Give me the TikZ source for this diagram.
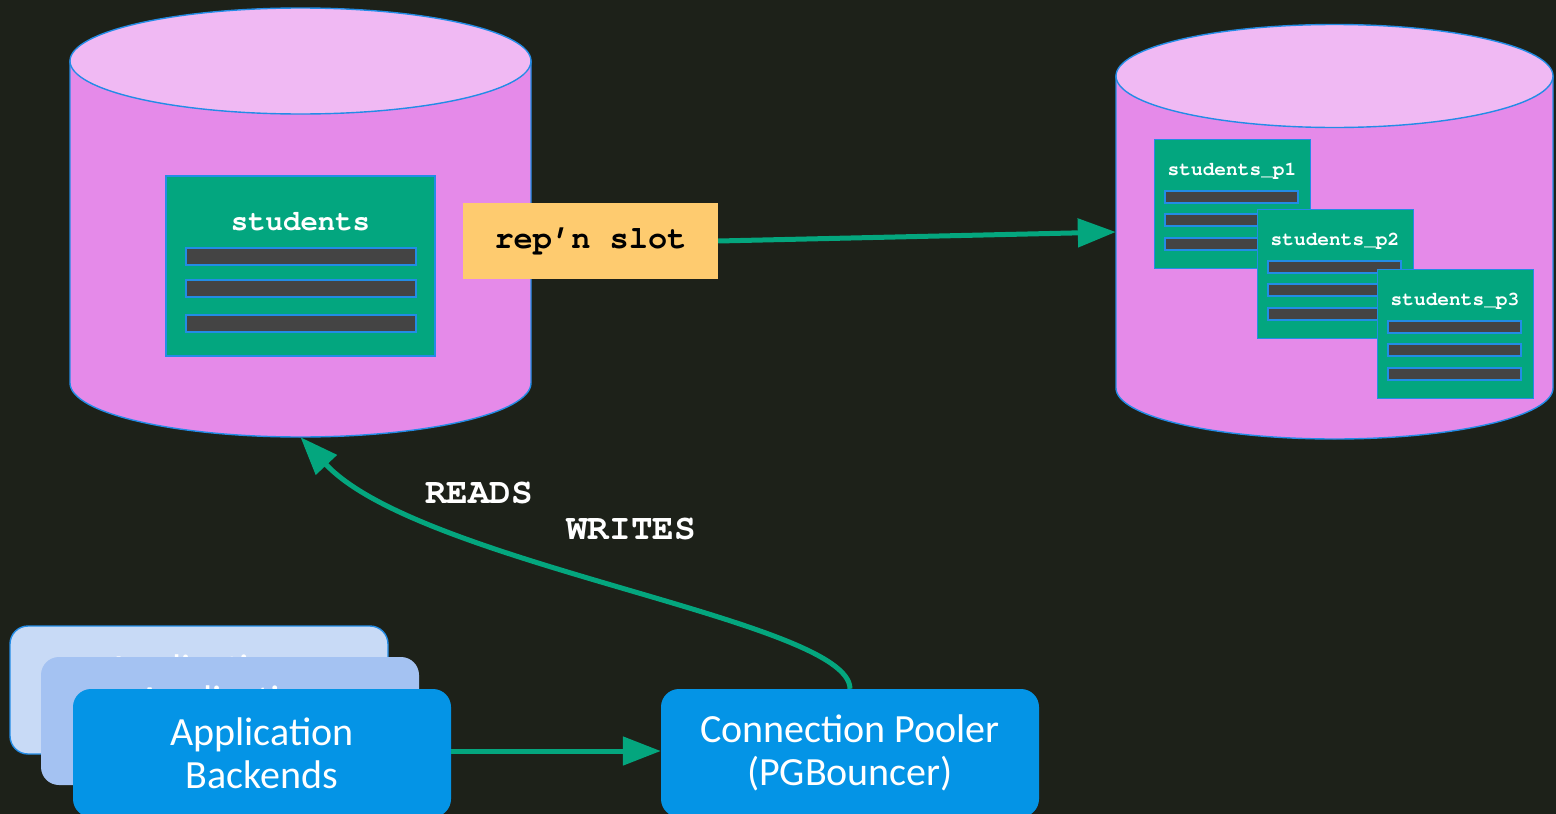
\documentclass[tikz,border=0pt]{standalone}
\usepackage{fontspec}
\setmainfont{Carlito}
\newfontfamily\codefont{TeX Gyre Cursor}
\usetikzlibrary{arrows.meta}

\definecolor{bg}{HTML}{1D2119}
\definecolor{dbbody}{HTML}{E58AE9}
\definecolor{dbtop}{HTML}{F0B9F3}
\definecolor{edgeblue}{HTML}{238CE6}
\definecolor{tblgreen}{HTML}{03A67F}
\definecolor{rowgrey}{HTML}{444444}
\definecolor{slotfill}{HTML}{FECB6F}
\definecolor{flow}{HTML}{04A67E}
\definecolor{appback}{HTML}{C8DAF6}
\definecolor{appmid}{HTML}{A4C2F2}
\definecolor{appfront}{HTML}{0494E6}

\tikzset{
  dbshape/.style={draw=edgeblue, line width=1.4pt},
  tbl/.style={draw=edgeblue, line width=1.4pt, fill=tblgreen, inner sep=0pt},
  rowbar/.style={draw=edgeblue, line width=1.2pt, fill=rowgrey, inner sep=0pt},
  tbltitle/.style={text=white, inner sep=0pt},
  appbox/.style={rounded corners=18pt, minimum width=378pt, minimum height=128pt,
    inner sep=0pt, align=center, text=white,
    font=\fontsize{40}{43}\selectfont},
  flowline/.style={draw=flow, line width=5pt, -{Triangle[length=38pt,width=28pt]}},
  codelabel/.style={text=white, inner sep=0pt, font=\codefont\bfseries\fontsize{36}{40}\selectfont},
  ptable/.pic={
    \node[tbl, minimum width=156pt, minimum height=129pt, anchor=north west] (-box) at (0,0) {};
    \node[tbltitle, font=\codefont\bfseries\fontsize{19.5}{21}\selectfont] (-title) at (78,32) {#1};
    \node[rowbar, minimum width=133pt, minimum height=12pt] (-r1) at (77.5,58) {};
    \node[rowbar, minimum width=133pt, minimum height=12pt] (-r2) at (77.5,81) {};
    \node[rowbar, minimum width=133pt, minimum height=12pt] (-r3) at (77.5,105) {};
  }
}

\begin{document}
\begin{tikzpicture}[x=1pt,y=-1pt]
\useasboundingbox (0,0) rectangle (1556,814);
\fill[bg] (0,0) rectangle (1556,814);

% source database cylinder
\node[inner sep=0pt, minimum width=461pt, minimum height=429pt] (src) at (300.5,222.5) {};
\draw[dbshape, fill=dbbody] (70,61) -- (70,383)
  arc[start angle=180, end angle=360, x radius=230.5pt, y radius=54pt] -- (531,61) -- cycle;
\draw[dbshape, fill=dbtop] (300.5,61) ellipse[x radius=230.5pt, y radius=53pt];

% target database cylinder
\node[inner sep=0pt, minimum width=437pt, minimum height=414pt] (tgt) at (1334.5,232) {};
\draw[dbshape, fill=dbbody] (1116,76) -- (1116,388)
  arc[start angle=180, end angle=360, x radius=218.5pt, y radius=51pt] -- (1553,76) -- cycle;
\draw[dbshape, fill=dbtop] (1334.5,76) ellipse[x radius=218.5pt, y radius=51.5pt];

% students table in the source
\node[tbl, minimum width=269pt, minimum height=180pt] (students) at (300.5,266) {};
\node[tbltitle, font=\codefont\bfseries\fontsize{29}{32}\selectfont] (studentstitle) at (300.5,222) {students};
\node[rowbar, minimum width=230pt, minimum height=17pt] (srow1) at (301,256.5) {};
\node[rowbar, minimum width=230pt, minimum height=17pt] (srow2) at (301,288.5) {};
\node[rowbar, minimum width=230pt, minimum height=17pt] (srow3) at (301,323.5) {};

% partitions in the target
\pic (p1) at (1154,139) {ptable={students\_p1}};
\pic (p2) at (1257,209) {ptable={students\_p2}};
\pic (p3) at (1377,269) {ptable={students\_p3}};

% replication slot
\node[fill=slotfill, minimum width=255pt, minimum height=76pt, inner sep=0pt,
  font=\codefont\bfseries\fontsize{32}{34}\selectfont] (slot) at (590.5,241) {rep’n slot};
\draw[flowline] (slot.east) -- (tgt.west);

% application backends
\node[appbox, fill=appback, draw=edgeblue, line width=1.4pt] (app1) at (199,690) {Application\\Backends};
\node[appbox, fill=appmid] (app2) at (230,721) {Application\\Backends};
\node[appbox, fill=appfront] (app) at (262,753) {Application\\Backends};

% connection pooler
\node[appbox, fill=appfront] (pooler) at (850,753) {Connection Pooler\\(PGBouncer)};

\draw[flowline] ([yshift=2pt]app.east) -- ([yshift=2pt]pooler.west);
\draw[flowline] (pooler.north) .. controls (850,620) and (420,565) .. (src.south);

\node[codelabel] (reads) at (479,493) {READS};
\node[codelabel] (writes) at (631,529) {WRITES};
\end{tikzpicture}
\end{document}
